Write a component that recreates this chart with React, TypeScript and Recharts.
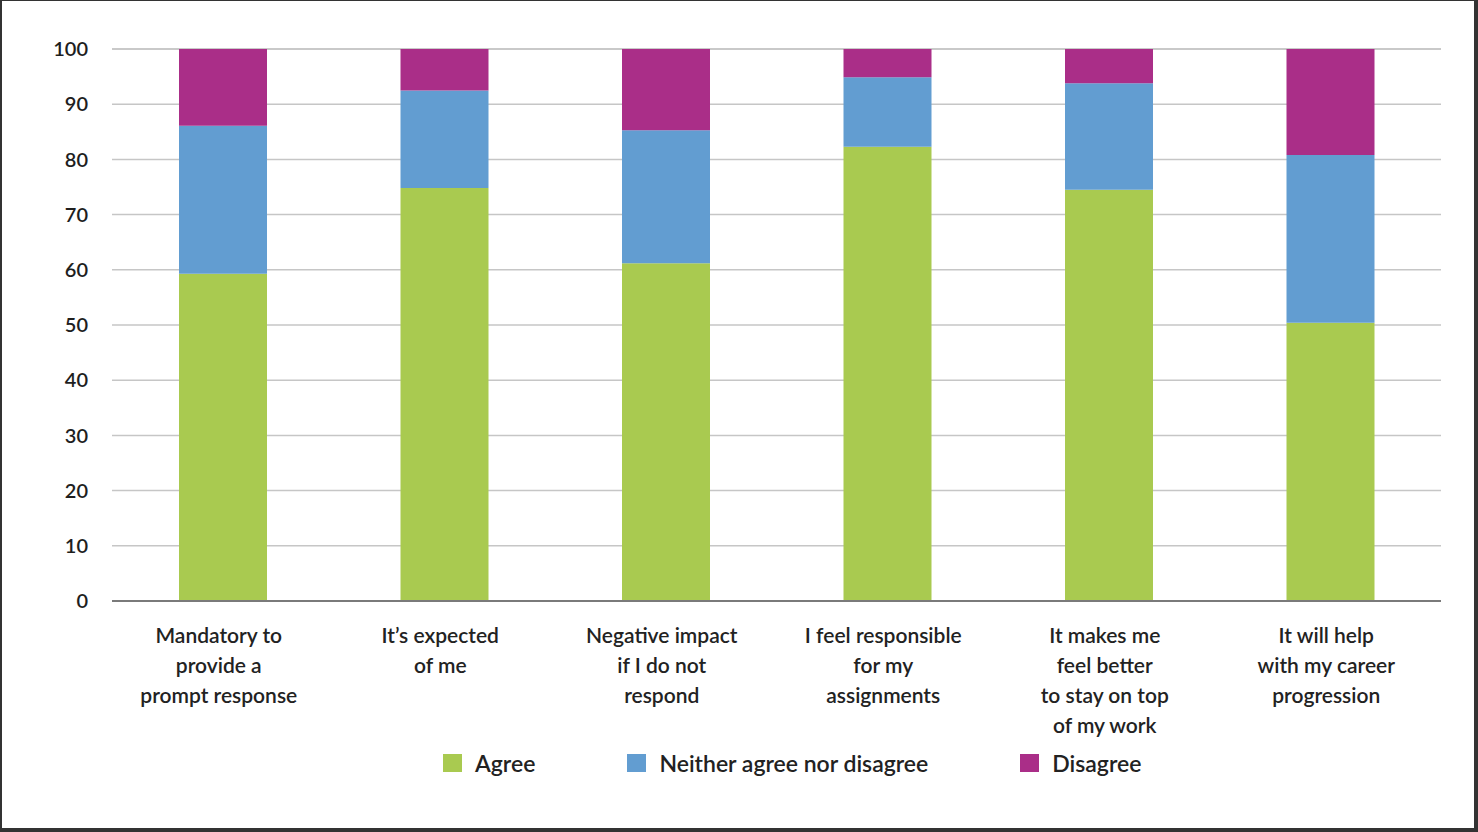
import React from "react";
import { BarChart, Bar, XAxis, YAxis, CartesianGrid, Legend } from "recharts";

const categories = [
  "Mandatory to\nprovide a\nprompt response",
  "It\u2019s expected\nof me",
  "Negative impact\nif I do not\nrespond",
  "I feel responsible\nfor my\nassignments",
  "It makes me\nfeel better\nto stay on top\nof my work",
  "It will help\nwith my career\nprogression",
];
const agree = [59.3, 74.8, 61.2, 82.3, 74.5, 50.4];
const neither = [26.8, 17.7, 24.1, 12.6, 19.3, 30.4];
const disagree = [13.9, 7.5, 14.7, 5.1, 6.2, 19.2];
const yTicks = [0, 10, 20, 30, 40, 50, 60, 70, 80, 90, 100];

const seriesNames = ["Agree", "Neither agree nor disagree", "Disagree"];
const colors = ["#a9ca50", "#629dd1", "#aa2e88"];

const data = categories.map((c, i) => ({
  name: c,
  agree: agree[i],
  neither: neither[i],
  disagree: disagree[i],
}));

const FONT = "Lato, 'Noto Sans', sans-serif";

const XTick = (props: any) => {
  const { x, y, payload } = props;
  const lines = String(payload.value).split("\n");
  const cx = x - 4;
  return (
    <text
      x={cx}
      y={y}
      textAnchor="middle"
      fill="#222"
      fontSize={21}
      fontWeight={600}
      fontFamily={FONT}
    >
      {lines.map((l, i) => (
        <tspan key={i} x={cx} y={y + 42 + i * 30}>
          {l}
        </tspan>
      ))}
    </text>
  );
};

const LegendContent = () => (
  <div
    style={{
      height: 50,
      width: 1478,
      display: "flex",
      alignItems: "center",
      paddingLeft: 443,
      boxSizing: "border-box",
      fontFamily: FONT,
      fontSize: 23,
      fontWeight: 600,
      color: "#222",
    }}
  >
    {seriesNames.map((n, i) => (
      <div
        key={n}
        style={{ display: "flex", alignItems: "center", marginRight: 92 }}
      >
        <div
          style={{
            width: 19,
            height: 18,
            background: colors[i],
            marginRight: 13,
          }}
        />
        <span>{n}</span>
      </div>
    ))}
  </div>
);

export default function App() {
  return (
    <div
      style={{
        position: "fixed",
        left: 0,
        top: 0,
        width: 1478,
        height: 832,
        background: "#fff",
      }}
    >
      <BarChart
        width={1478}
        height={832}
        data={data}
        margin={{ top: 49, right: 37, bottom: 44, left: 0 }}
        barSize={88}
      >
        <CartesianGrid
          vertical={false}
          stroke="#c6c6c6"
          strokeWidth={1.5}
        />
        <XAxis
          dataKey="name"
          interval={0}
          height={137}
          tick={<XTick />}
          tickLine={false}
          tickSize={0}
          tickMargin={0}
          axisLine={{ stroke: "#7a7a7a", strokeWidth: 2 }}
        />
        <YAxis
          width={112}
          domain={[0, 100]}
          ticks={yTicks}
          interval={0}
          axisLine={false}
          tickLine={false}
          tickSize={0}
          tickMargin={24}
          tick={{ fill: "#1e1e1e", fontSize: 20, fontFamily: FONT, fontWeight: 600 }}
        />
        <Legend
          verticalAlign="bottom"
          content={<LegendContent />}
          wrapperStyle={{ left: 0, width: 1478 }}
        />
        <Bar dataKey="agree" name={seriesNames[0]} stackId="a" fill={colors[0]} isAnimationActive={false} />
        <Bar dataKey="neither" name={seriesNames[1]} stackId="a" fill={colors[1]} isAnimationActive={false} />
        <Bar dataKey="disagree" name={seriesNames[2]} stackId="a" fill={colors[2]} isAnimationActive={false} />
      </BarChart>
      <div
        style={{
          position: "absolute",
          left: 0,
          top: 0,
          width: 1478,
          height: 832,
          boxSizing: "border-box",
          borderTop: "1px solid #333",
          borderLeft: "2px solid #333",
          borderRight: "4px solid #333",
          borderBottom: "4px solid #333",
          pointerEvents: "none",
        }}
      />
    </div>
  );
}
